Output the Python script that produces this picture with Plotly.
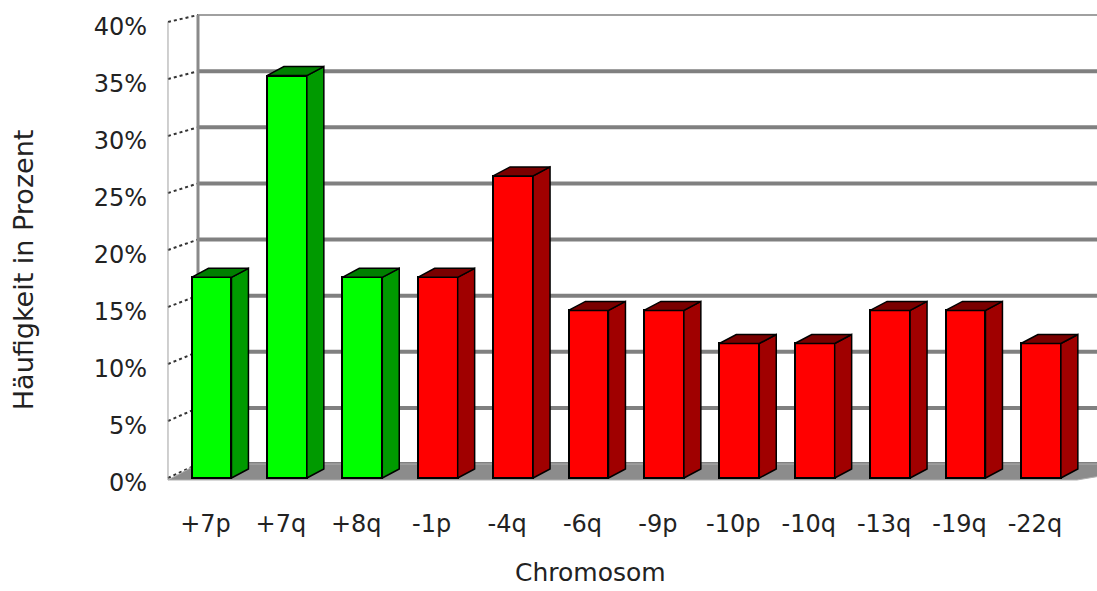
import plotly.graph_objects as go

# ---------------- data ----------------
categories = ["+7p", "+7q", "+8q", "-1p", "-4q", "-6q", "-9p", "-10p", "-10q", "-13q", "-19q", "-22q"]
values = [17.6, 35.3, 17.6, 17.6, 26.5, 14.7, 14.7, 11.8, 11.8, 14.7, 14.7, 11.8]
groups = ["gain", "gain", "gain", "loss", "loss", "loss", "loss", "loss", "loss", "loss", "loss", "loss"]
y_ticks = [0, 5, 10, 15, 20, 25, 30, 35, 40]
y_tick_labels = [f"{t}%" for t in y_ticks]
x_title = "Chromosom"
y_title = "Häufigkeit in Prozent"

# ---------------- style / geometry ----------------
FRONT = {"gain": "#00FF00", "loss": "#FF0000"}
SIDE = {"gain": "#009A00", "loss": "#A00000"}
TOP = {"gain": "#007F00", "loss": "#7A0000"}
BAR_W = 0.53          # front face width (category units)
DEPTH_X = 0.225       # bar depth offset, x (category units)
DEPTH_Y = 0.79        # bar depth offset, y (percent units)
WALL_X = 0.398        # back wall offset, x
WALL_Y0 = 1.228       # back wall offset at 0
WALL_K = 0.9846       # back wall scale vs front
X_RANGE = [-0.683, 11.744]
Y_RANGE = [-1.93, 41.93]
WALL_FRONT_X = -0.577
FLOOR_FRONT_Y = -0.175
FLOOR_FRONT_RIGHT = 11.48
FONT = "DejaVu Sans, Arial, sans-serif"
TXT = "#222222"

xs = list(range(len(categories)))


def wall_y(g):
    return WALL_Y0 + WALL_K * g


fig = go.Figure()

# front faces
fig.add_trace(go.Bar(
    x=xs, y=values, width=BAR_W,
    marker=dict(color=[FRONT[g] for g in groups], line=dict(color="black", width=2)),
    showlegend=False, hoverinfo="skip",
))

# side and top faces
for x, v, g in zip(xs, values, groups):
    xl = x - BAR_W / 2
    xr = x + BAR_W / 2
    fig.add_trace(go.Scatter(
        x=[xr, xr, xr + DEPTH_X, xr + DEPTH_X, xr],
        y=[0, v, v + DEPTH_Y, DEPTH_Y, 0],
        fill="toself", fillcolor=SIDE[g], mode="lines",
        line=dict(color="black", width=1.5), showlegend=False, hoverinfo="skip",
    ))
    fig.add_trace(go.Scatter(
        x=[xl, xr, xr + DEPTH_X, xl + DEPTH_X, xl],
        y=[v, v, v + DEPTH_Y, v + DEPTH_Y, v],
        fill="toself", fillcolor=TOP[g], mode="lines",
        line=dict(color="black", width=1.5), showlegend=False, hoverinfo="skip",
    ))

shapes = []
back_left = WALL_FRONT_X + WALL_X
x_far = X_RANGE[1] + 1
# back wall gridlines
for t in y_ticks:
    top = t == y_ticks[-1]
    shapes.append(dict(type="line", xref="x", yref="y", layer="below",
                       x0=back_left, x1=x_far, y0=wall_y(t), y1=wall_y(t),
                       line=dict(color="#A0A0A0" if top else "#808080", width=2 if top else 4)))
# left side wall ticks
for t in y_ticks:
    shapes.append(dict(type="line", xref="x", yref="y", layer="below",
                       x0=WALL_FRONT_X, x1=back_left, y0=t, y1=wall_y(t),
                       line=dict(color="#333333", width=2, dash="dot")))
# back wall left edge
shapes.append(dict(type="line", xref="x", yref="y", layer="below",
                   x0=back_left, x1=back_left, y0=wall_y(0), y1=wall_y(y_ticks[-1]),
                   line=dict(color="#8A8A8A", width=3)))
# left wall front edge
shapes.append(dict(type="line", xref="x", yref="y", layer="below",
                   x0=WALL_FRONT_X, x1=WALL_FRONT_X, y0=FLOOR_FRONT_Y, y1=y_ticks[-1],
                   line=dict(color="#A0A0A0", width=1)))
# floor
fx = [WALL_FRONT_X, back_left, x_far, FLOOR_FRONT_RIGHT]
fy = [FLOOR_FRONT_Y, wall_y(0), wall_y(0), FLOOR_FRONT_Y]
shapes.append(dict(type="path", xref="x", yref="y", layer="below",
                   path="M " + " L ".join(f"{a},{b}" for a, b in zip(fx, fy)) + " Z",
                   fillcolor="#8C8C8C", line=dict(color="#B0B0B0", width=1)))

fig.update_layout(
    width=1097, height=591, autosize=False,
    margin=dict(l=160, r=0, t=0, b=91),
    paper_bgcolor="white", plot_bgcolor="white",
    font=dict(family=FONT, size=24, color=TXT),
    shapes=shapes, bargap=0,
    xaxis=dict(range=X_RANGE, tickvals=xs, ticktext=categories, showgrid=False,
               zeroline=False, showline=False, ticks="", ticklabelstandoff=7,
               ticklabelshift=-6, tickfont=dict(size=24, family=FONT, color=TXT)),
    yaxis=dict(range=Y_RANGE, tickvals=y_ticks, ticktext=y_tick_labels, showgrid=False,
               zeroline=False, showline=False, ticks="", ticklabelstandoff=12,
               ticklabelshift=5, tickfont=dict(size=24, family=FONT, color=TXT)),
    annotations=[
        dict(text=x_title, xref="paper", yref="paper", x=0.4596, y=-0.144,
             xanchor="center", yanchor="middle", showarrow=False,
             font=dict(size=25, family=FONT, color=TXT)),
        dict(text=y_title, xref="paper", yref="paper", x=-0.146, y=0.46,
             xanchor="center", yanchor="middle", textangle=-90, showarrow=False,
             font=dict(size=27, family=FONT, color=TXT)),
    ],
)

fig.write_html("out.html", config={"displayModeBar": False})
